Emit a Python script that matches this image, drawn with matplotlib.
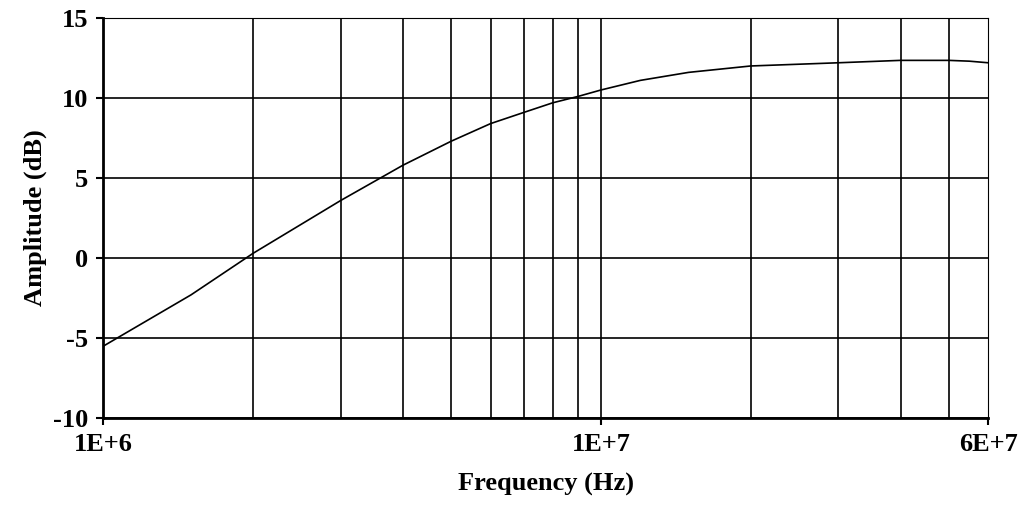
import matplotlib
matplotlib.use("Agg")
import matplotlib.pyplot as plt
import numpy as np

freq = [1e6, 1.5e6, 2e6, 3e6, 4e6, 5e6, 6e6, 7e6, 8e6, 9e6, 1e7, 1.2e7, 1.5e7, 2e7, 3e7, 4e7, 5e7, 5.5e7, 6e7]
amp = [-5.5, -2.3, 0.3, 3.6, 5.8, 7.3, 8.4, 9.1, 9.7, 10.1, 10.5, 11.1, 11.6, 12.0, 12.2, 12.35, 12.35, 12.3, 12.2]
xticks = [1e6, 1e7, 6e7]
xticklabels = ["1E+6", "1E+7", "6E+7"]
yticks = [-10, -5, 0, 5, 10, 15]

plt.rcParams['font.family'] = ['Liberation Serif', 'DejaVu Serif']
plt.rcParams['axes.unicode_minus'] = False
fig = plt.figure(figsize=(10.24, 5.13), dpi=100)
ax = fig.add_axes([0.101, 0.185, 0.864, 0.78])
ax.plot(freq, amp, color='black', lw=1.2)
ax.set_xscale('log')
ax.set_xlim(1e6, 6e7)
ax.set_ylim(-10, 15)
gx = [2e6, 3e6, 4e6, 5e6, 6e6, 7e6, 8e6, 9e6, 1e7, 2e7, 3e7, 4e7, 5e7]
for g in gx:
    ax.axvline(g, color='black', lw=1.2)
for g in yticks:
    ax.axhline(g, color='black', lw=1.2)
ax.set_xticks(xticks)
ax.set_xticklabels(xticklabels)
ax.xaxis.set_minor_locator(matplotlib.ticker.NullLocator())
ax.set_yticks(yticks)
ax.tick_params(labelsize=19, width=1.5, length=5, pad=6)
for l in ax.get_xticklabels() + ax.get_yticklabels():
    l.set_fontweight('bold')
for s in ['left', 'bottom']:
    ax.spines[s].set_linewidth(2)
ax.set_xlabel('Frequency (Hz)', fontsize=19, fontweight='bold', labelpad=12)
ax.set_ylabel('Amplitude (dB)', fontsize=19, fontweight='bold', labelpad=4)
fig.savefig('out.png', dpi=100)
